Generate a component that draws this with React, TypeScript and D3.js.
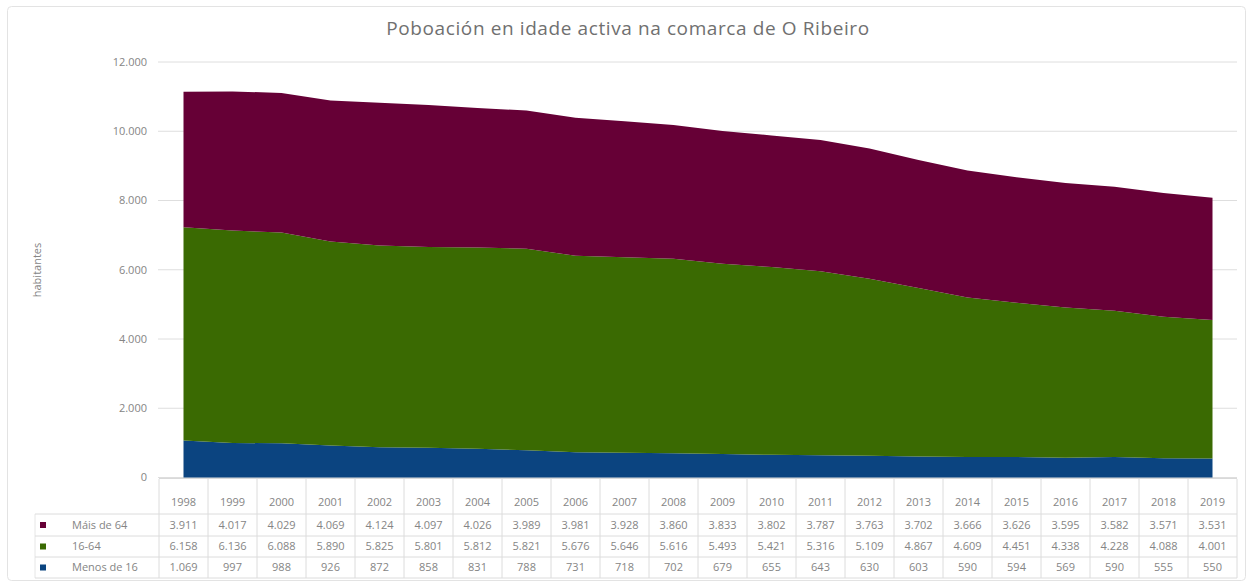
import React from "react";
import * as d3 from "d3";

const years = ["1998","1999","2000","2001","2002","2003","2004","2005","2006","2007","2008","2009","2010","2011","2012","2013","2014","2015","2016","2017","2018","2019"];
const menos16 = [1069, 997, 988, 926, 872, 858, 831, 788, 731, 718, 702, 679, 655, 643, 630, 603, 590, 594, 569, 590, 555, 550];
const de16a64 = [6158, 6136, 6088, 5890, 5825, 5801, 5812, 5821, 5676, 5646, 5616, 5493, 5421, 5316, 5109, 4867, 4609, 4451, 4338, 4228, 4088, 4001];
const mais64 = [3911, 4017, 4029, 4069, 4124, 4097, 4026, 3989, 3981, 3928, 3860, 3833, 3802, 3787, 3763, 3702, 3666, 3626, 3595, 3582, 3571, 3531];
const seriesNames = ["Menos de 16", "16-64", "Máis de 64"];
const yTicks = [0, 2000, 4000, 6000, 8000, 10000, 12000];
const title = "Poboación en idade activa na comarca de O Ribeiro";
const yTitle = "habitantes";

const colors = ["#0b4480", "#3a6a02", "#660036"];
const FONT = "'Open Sans', 'DejaVu Sans', sans-serif";
const TXT = "#858585";

const locale = d3.formatLocale({ decimal: ",", thousands: ".", grouping: [3], currency: ["", "€"] });
const fmt = locale.format(",d");

export default function App() {
  const W = 1253, H = 581;
  const tableX0 = 159, colW = 49;
  const nCols = years.length;
  const tableX1 = tableX0 + nCols * colW;
  const x = d3.scalePoint<string>().domain(years).range([tableX0 + colW / 2, tableX1 - colW / 2]);
  const y = d3.scaleLinear().domain([0, 12000]).range([477.5, 62]);

  const rows = years.map((yr, i) => ({ year: yr, a: menos16[i], b: de16a64[i], c: mais64[i] }));
  const stack = d3.stack<any>().keys(["a", "b", "c"]);
  const layers = stack(rows);
  const area = d3.area<any>()
    .x((d) => x(d.data.year) as number)
    .y0((d) => y(d[0]))
    .y1((d) => y(d[1]))
    .curve(d3.curveLinear);

  const tableRows = [
    { name: seriesNames[2], vals: mais64, color: colors[2] },
    { name: seriesNames[1], vals: de16a64, color: colors[1] },
    { name: seriesNames[0], vals: menos16, color: colors[0] },
  ];
  const headerY = 502;
  const rowBounds = [514, 536, 557, 578];
  const labelX0 = 35;

  return (
    <svg width={W} height={H} style={{ display: "block", position: "absolute", left: 0, top: 0 }} fontFamily={FONT}>
      <rect x={0} y={0} width={W} height={H} fill="#ffffff" />
      <rect x={7.5} y={6.5} width={1238} height={574} rx={4} fill="#ffffff" stroke="#e3e3e3" />
      <text x={628} y={35} textAnchor="middle" fontSize={19} letterSpacing={0.6} fill="#707070">{title}</text>
      {yTicks.map((t) => (
        <g key={t}>
          <line x1={158} x2={1237} y1={y(t)} y2={y(t)} stroke="#dedede" strokeWidth={1} />
          <text x={147} y={y(t)} dy="0.35em" textAnchor="end" fontSize={11} fill={TXT}>{fmt(t)}</text>
        </g>
      ))}
      <text transform={`translate(41,270) rotate(-90)`} textAnchor="middle" fontSize={11} fill={TXT}>{yTitle}</text>
      {layers.map((l, i) => (
        <path key={i} d={area(l as any) as string} fill={colors[i]} />
      ))}
      {/* data table */}
      <line x1={tableX0} x2={tableX1} y1={478.5} y2={478.5} stroke="#d9d9d9" />
      {d3.range(nCols + 1).map((i) => (
        <line key={"v" + i} x1={tableX0 + i * colW} x2={tableX0 + i * colW} y1={479} y2={rowBounds[3]} stroke="#dcdcdc" />
      ))}
      <line x1={labelX0} x2={labelX0} y1={rowBounds[0]} y2={rowBounds[3]} stroke="#e6e6e6" />
      {rowBounds.map((b, i) => (
        <line key={"h" + i} x1={labelX0} x2={tableX1} y1={b} y2={b} stroke="#dcdcdc" />
      ))}
      {years.map((yr) => (
        <text key={yr} x={x(yr)} y={headerY} dy="0.35em" textAnchor="middle" fontSize={11} fill={TXT}>{yr}</text>
      ))}
      {tableRows.map((r, ri) => {
        const cy = (rowBounds[ri] + rowBounds[ri + 1]) / 2;
        return (
          <g key={r.name}>
            <rect x={40} y={cy - 3} width={6} height={6} fill={r.color} />
            <text x={72} y={cy} dy="0.35em" textAnchor="start" fontSize={11} fill={TXT}>{r.name}</text>
            {r.vals.map((v, i) => (
              <text key={i} x={x(years[i])} y={cy} dy="0.35em" textAnchor="middle" fontSize={11} fill={TXT}>{fmt(v)}</text>
            ))}
          </g>
        );
      })}
    </svg>
  );
}
